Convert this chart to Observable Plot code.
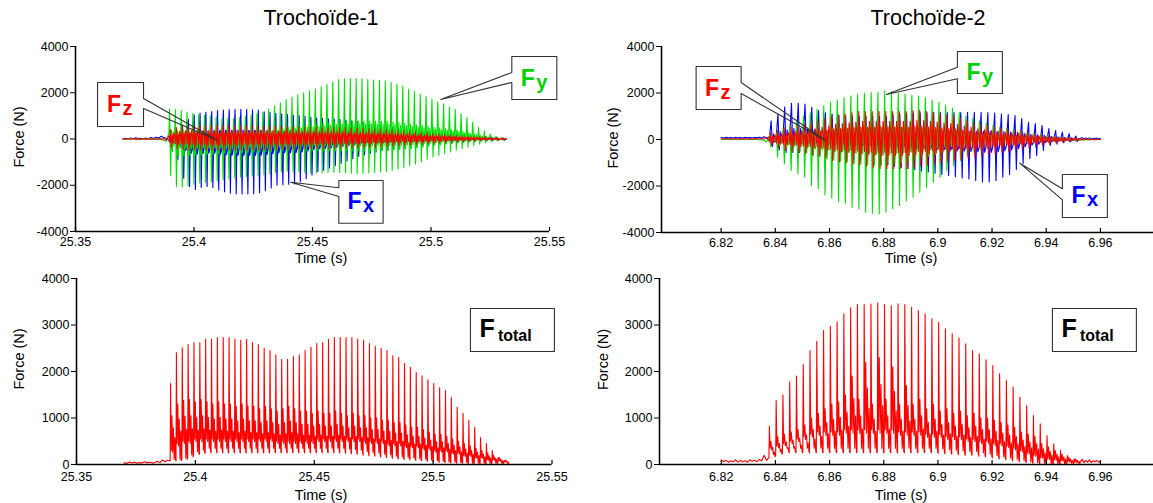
<!DOCTYPE html>
<html><head><meta charset="utf-8">
<script src="https://cdn.jsdelivr.net/npm/d3@7"></script>
<script src="https://cdn.jsdelivr.net/npm/@observablehq/plot@0.6"></script>
<style>
html,body{margin:0;padding:0;background:#fff;}
#root{position:relative;width:1153px;height:503px;overflow:hidden;font-family:"Liberation Sans",Arial,sans-serif;}
</style></head><body><div id="root"></div>
<script>
// ================= DATA =================
// Trochoïde-1 : time (s), one entry per tooth pass (cycle)
const t1Start = 25.37, t1Cycle0 = 25.3894, t1Period = 0.00246;
const t1FxMax = [200,350,600,850,1050,1120,1160,1190,1230,1250,1270,1280,1280,1270,1260,1250,1180,1150,1110,1090,1060,1030,1010,980,950,920,890,870,860,850,820,780,740,700,660,620,580,540,500,470,440,410,380,350,320,290,260,240,220,200,180,160,140,120,100,80,60,40];
const t1FxMin = [-400,-900,-1700,-2050,-2180,-2100,-2050,-2100,-2200,-2280,-2340,-2370,-2380,-2380,-2370,-2320,-2240,-2120,-2000,-1980,-1960,-1940,-1850,-1720,-1560,-1400,-1350,-1250,-1150,-1050,-950,-850,-750,-680,-620,-560,-510,-470,-430,-400,-370,-340,-310,-280,-260,-240,-220,-200,-180,-160,-140,-120,-100,-90,-80,-70,-60,-50];
const t1FyMax = [1300,1270,1230,1170,1110,1060,1030,1000,950,900,890,880,920,980,1040,1100,1160,1300,1430,1560,1690,1810,1910,2000,2080,2160,2260,2360,2470,2570,2600,2620,2610,2600,2570,2550,2540,2520,2440,2380,2290,2150,2050,1940,1840,1730,1610,1520,1380,1280,1090,920,730,500,340,210,120,60];
const t1FyMin = [-1580,-2050,-2080,-2010,-1950,-1900,-1870,-1850,-1800,-1760,-1720,-1680,-1650,-1620,-1600,-1580,-1540,-1500,-1450,-1400,-1380,-1400,-1420,-1440,-1450,-1460,-1460,-1450,-1440,-1450,-1460,-1480,-1500,-1490,-1470,-1450,-1430,-1400,-1360,-1300,-1240,-1160,-1080,-980,-880,-780,-700,-620,-560,-480,-420,-350,-280,-220,-160,-120,-80,-50];
const t1FzMax = [400,500,550,550,560,560,570,580,580,580,570,570,570,560,560,560,550,550,550,540,540,530,520,510,510,500,500,500,490,490,480,470,460,450,440,430,420,400,380,360,340,320,300,280,260,240,220,200,180,160,140,120,100,90,80,60,50,40];
const t1FzMin = [-350,-420,-450,-460,-470,-480,-480,-490,-490,-490,-480,-480,-480,-470,-470,-470,-460,-460,-460,-450,-450,-440,-430,-420,-420,-410,-410,-410,-400,-400,-390,-380,-370,-360,-350,-340,-330,-310,-300,-280,-270,-250,-240,-220,-200,-190,-170,-160,-140,-130,-110,-100,-80,-70,-60,-50,-40,-30];
const t1TotPeak = [1740,2400,2510,2580,2620,2620,2700,2700,2730,2730,2730,2690,2670,2690,2620,2580,2500,2450,2360,2260,2260,2320,2360,2450,2520,2600,2620,2690,2730,2730,2730,2730,2700,2670,2600,2540,2500,2450,2340,2300,2170,2090,1980,1910,1820,1740,1650,1590,1440,1230,1100,950,800,580,450,300,150,80];
const t1TotSecond = [1050,1300,1380,1400,1350,1400,1350,1300,1350,1300,1300,1250,1300,1250,1250,1200,1250,1200,1150,1200,1250,1200,1150,1150,1100,1150,1100,1100,1150,1100,1050,1100,1050,1050,1000,1000,950,950,900,900,850,800,800,750,700,650,650,600,550,500,450,400,350,300,250,200,150,100];
const t1TotDip = [300,450,500,500,550,550,550,550,550,550,550,550,550,550,550,550,550,550,500,500,500,500,500,500,500,550,550,550,550,550,550,550,550,500,500,500,500,450,450,450,400,400,400,350,350,300,300,300,250,250,200,200,150,150,100,100,80,60];
const t1TotLow = [80,80,100,150,200,220,250,250,250,250,250,250,250,250,250,250,250,250,250,250,250,250,250,250,250,250,250,250,250,250,240,230,220,200,190,180,160,150,130,120,110,100,90,80,70,60,50,40,40,30,30,20,20,20,20,20,20,20];
const t1PreFx = [10,30,0,40,10,50,20,30,0,40,10,60,20,80,40,120,60,30];
const t1PreFy = [0,-10,10,-5,15,-10,5,-15,10,0,-10,20,-20,10,-30,20,-60,-100];
const t1PreFz = [5,-5,10,-10,15,-5,5,-10,10,-5,15,-15,10,-20,30,-30,20,-40];
const t1PreTot = [40,20,55,30,50,25,45,30,60,35,50,30,45,70,40,100,60,90];

// Trochoïde-2
const t2Start = 6.82, t2Cycle0 = 6.8376, t2Period = 0.0025, t2End = 6.96;
const t2FxMax = [800,1100,1400,1560,1560,1530,1390,1250,1150,1100,1050,1000,1000,1000,1000,1000,1000,1000,1050,1100,1120,1140,1150,1160,1160,1160,1160,1160,1160,1170,1170,1170,1160,1140,1100,1070,1030,900,745,690,600,470,390,315,250,150];
const t2FxMin = [-300,-450,-560,-560,-560,-560,-560,-600,-650,-700,-750,-800,-850,-900,-950,-1000,-1050,-1100,-1150,-1200,-1250,-1300,-1350,-1400,-1450,-1500,-1550,-1600,-1650,-1700,-1760,-1830,-1830,-1760,-1620,-1500,-1290,-1030,-820,-690,-470,-260,-200,-150,-100,-80];
const t2FyMax = [200,300,450,600,800,1000,1150,1300,1450,1600,1700,1800,1880,1950,1990,2020,2040,2080,2050,2000,1950,1900,1870,1800,1700,1600,1480,1350,1170,1000,900,800,700,620,550,480,420,360,300,250,200,160,120,90,70,50];
const t2FyMin = [-330,-760,-1040,-1330,-1460,-1620,-1980,-2120,-2380,-2520,-2670,-2740,-2910,-2980,-3130,-3170,-3200,-3130,-2980,-2840,-2640,-2480,-2270,-2070,-1840,-1620,-1330,-1120,-900,-690,-550,-450,-380,-320,-280,-250,-220,-200,-180,-160,-140,-120,-100,-90,-70,-60];
const t2FzMax = [300,400,500,550,600,650,700,800,900,1000,1050,1100,1150,1200,1200,1200,1200,1200,1200,1200,1200,1250,1250,1200,1150,1100,1050,1000,900,800,700,650,600,550,500,450,400,350,300,250,200,160,130,100,80,60];
const t2FzMin = [-250,-350,-450,-500,-550,-600,-650,-700,-800,-900,-950,-1000,-1050,-1100,-1150,-1200,-1250,-1250,-1250,-1250,-1250,-1200,-1150,-1100,-1050,-1000,-950,-900,-850,-800,-750,-700,-650,-600,-550,-500,-450,-400,-350,-300,-250,-200,-160,-120,-90,-60];
const t2TotPeak = [820,1375,1500,1780,1900,2150,2450,2650,2880,2970,3070,3240,3370,3440,3440,3450,3475,3440,3418,3455,3440,3383,3311,3240,3132,3060,2917,2810,2724,2595,2451,2380,2250,2129,1950,1806,1663,1447,1268,1053,874,624,445,301,193,122];
const t2TotSecond = [500,600,650,700,750,850,1000,1100,1200,1300,1350,1500,1900,1400,2200,1300,2300,1400,2100,1300,1700,1300,1400,1200,1300,1150,1200,1100,1150,1050,1100,1000,1000,950,900,850,800,700,650,600,450,380,300,220,160,120];
const t2TotDip = [350,400,450,500,550,600,650,700,700,700,700,750,750,750,750,750,750,750,750,700,700,700,700,650,650,650,600,600,600,550,550,500,500,450,450,400,350,300,250,200,150,120,100,80,60,50];
const t2TotLow = [150,200,250,250,250,250,250,250,250,250,250,250,250,250,250,250,250,250,250,250,250,250,250,250,250,240,230,220,210,200,200,180,160,140,120,100,80,60,40,30,20,10,10,10,20,20];
const t2PreFx = [80,60,90,70,80,60,90,70,80,60,90,70,80,60,90,70,100,60,120,80];
const t2PreFy = [10,0,10,-10,0,10,0,-10,10,0,-10,10,0,-10,0,10,-20,0,-40,-100];
const t2PreFz = [30,20,40,20,30,10,40,20,30,20,40,10,30,20,40,20,30,40,20,60];
const t2PreTot = [100,60,90,50,80,60,100,50,90,60,80,50,100,70,90,60,110,80,200,90];
const t2PostFx = [40,80,20,60,30,70,20,50,40,60,30,50];
const t2PostFy = [-40,20,-30,10,-20,30,-10,20,-20,10,0,10];
const t2PostFz = [20,-20,30,-10,20,-20,10,-10,20,-10,10,0];
const t2PostTot = [60,110,40,90,50,100,40,80,60,90,50,70];

// ticks
const t1XTicks = [25.35, 25.4, 25.45, 25.5, 25.55];
const t1XLabels = ["25.35", "25.4", "25.45", "25.5", "25.55"];
const t2XTicks = [6.82, 6.84, 6.86, 6.88, 6.9, 6.92, 6.94, 6.96];
const t2XLabels = ["6.82", "6.84", "6.86", "6.88", "6.9", "6.92", "6.94", "6.96"];
const topYTicks = [-4000, -2000, 0, 2000, 4000];
const topYLabels = ["-4000", "-2000", "0", "2000", "4000"];
const botYTicks = [0, 1000, 2000, 3000, 4000];
const botYLabels = ["0", "1000", "2000", "3000", "4000"];

// waveform shape within one tooth pass: [phase, weight of the cycle's max (+) or min (-)]
const fxShape = [[0.05,-0.2],[0.35,1],[0.55,-1],[0.7,0.3],[0.85,-0.3]];
const fyShape = [[0,0.2],[0.12,1],[0.3,-1],[0.45,0.3],[0.6,-0.35],[0.75,0.25],[0.9,-0.2]];
const fzShape = [[0,0.35],[0.14,-0.45],[0.28,1],[0.43,-1],[0.58,0.45],[0.72,-0.55],[0.86,0.65]];
const totShape = [[0,"low",1],[0.07,"peak",1],[0.17,"dip",1],[0.3,"second",1],[0.42,"dip",0.9],[0.55,"second",0.75],[0.68,"low",1.4],[0.8,"second",0.55],[0.92,"low",1.1]];

// ================= BUILD =================
function even(tA, tB, vals, inclusiveEnd) {
  const n = inclusiveEnd ? vals.length - 1 : vals.length;
  return vals.map((v, i) => ({t: tA + (tB - tA) * i / n, v}));
}
function cycles(t0, T, shape, maxA, minA) {
  const pts = [];
  maxA.forEach((mx, k) => {
    const mn = minA[k];
    for (const [ph, c] of shape) pts.push({t: t0 + (k + ph) * T, v: c >= 0 ? c * mx : -c * mn});
  });
  return pts;
}
function totCycles(t0, T, arrs) {
  const pts = [];
  arrs.peak.forEach((_, k) => {
    for (const [ph, key, c] of totShape) pts.push({t: t0 + (k + ph) * T, v: c * arrs[key][k]});
  });
  return pts;
}
const t2Last = t2Cycle0 + t2FxMax.length * t2Period;

const t1Fx = even(t1Start, t1Cycle0, t1PreFx).concat(cycles(t1Cycle0, t1Period, fxShape, t1FxMax, t1FxMin));
const t1Fy = even(t1Start, t1Cycle0, t1PreFy).concat(cycles(t1Cycle0, t1Period, fyShape, t1FyMax, t1FyMin));
const t1Fz = even(t1Start, t1Cycle0, t1PreFz).concat(cycles(t1Cycle0, t1Period, fzShape, t1FzMax, t1FzMin));
const t1Tot = even(t1Start, t1Cycle0, t1PreTot).concat(totCycles(t1Cycle0, t1Period, {peak: t1TotPeak, second: t1TotSecond, dip: t1TotDip, low: t1TotLow}));

const t2Fx = even(t2Start, t2Cycle0, t2PreFx).concat(cycles(t2Cycle0, t2Period, fxShape, t2FxMax, t2FxMin), even(t2Last, t2End, t2PostFx, true));
const t2Fy = even(t2Start, t2Cycle0, t2PreFy).concat(cycles(t2Cycle0, t2Period, fyShape, t2FyMax, t2FyMin), even(t2Last, t2End, t2PostFy, true));
const t2Fz = even(t2Start, t2Cycle0, t2PreFz).concat(cycles(t2Cycle0, t2Period, fzShape, t2FzMax, t2FzMin), even(t2Last, t2End, t2PostFz, true));
const t2Tot = even(t2Start, t2Cycle0, t2PreTot).concat(totCycles(t2Cycle0, t2Period, {peak: t2TotPeak, second: t2TotSecond, dip: t2TotDip, low: t2TotLow}), even(t2Last, t2End, t2PostTot, true));

const RED = "#ff0000", GREEN = "#00e000", BLUE = "#0000ff";

// annotation boxes (data units)
const annTL = [
  {sub: "z", color: RED, x1: 25.3593, x2: 25.3787, y1: 540, y2: 2443, side: "right", w1: 1751, w2: 1319, tip: [25.4100, -65]},
  {sub: "y", color: "#00d000", x1: 25.5341, x2: 25.5531, y1: 1708, y2: 3567, side: "left", w1: 2875, w2: 2443, tip: [25.5041, 1708]},
  {sub: "x", color: BLUE, x1: 25.4611, x2: 25.4798, y1: -3641, y2: -1794, side: "left", w1: -2110, w2: -2486, tip: [25.4408, -1868]}
];
const annTR = [
  {sub: "z", color: RED, x1: 6.81078, x2: 6.82739, y1: 1290, y2: 3140, side: "right", w1: 2452, w2: 1978, tip: [6.8585, -43]},
  {sub: "y", color: "#00d000", x1: 6.90722, x2: 6.92382, y1: 1978, y2: 3785, side: "left", w1: 3110, w2: 2610, tip: [6.88101, 1935]},
  {sub: "x", color: BLUE, x1: 6.94597, x2: 6.96258, y1: -3355, y2: -1505, side: "left", w1: -2120, w2: -2594, tip: [6.93021, -1019]}
];
const annBL = [{sub: "total", color: "#000", x1: 25.51569, x2: 25.55101, y1: 2430, y2: 3355, side: "none"}];
const annBR = [{sub: "total", color: "#000", x1: 6.94228, x2: 6.97328, y1: 2430, y2: 3355, side: "none"}];

function annMarks(a) {
  let path;
  if (a.side === "right") path = [[a.x1,a.y2],[a.x2,a.y2],[a.x2,a.w1],a.tip,[a.x2,a.w2],[a.x2,a.y1],[a.x1,a.y1],[a.x1,a.y2]];
  else if (a.side === "left") path = [[a.x1,a.y2],[a.x2,a.y2],[a.x2,a.y1],[a.x1,a.y1],[a.x1,a.w2],a.tip,[a.x1,a.w1],[a.x1,a.y2]];
  else path = [[a.x1,a.y2],[a.x2,a.y2],[a.x2,a.y1],[a.x1,a.y1],[a.x1,a.y2]];
  const cx = (a.x1 + a.x2) / 2, cy = (a.y1 + a.y2) / 2;
  const big = a.sub === "total";
  return [
    Plot.rect([a], {x1: "x1", x2: "x2", y1: "y1", y2: "y2", fill: "white"}),
    Plot.line(path, {x: d => d[0], y: d => d[1], stroke: "#333", strokeWidth: 1.1}),
    Plot.text([a], {x: () => cx, y: () => cy, text: () => "F", textAnchor: "start", lineAnchor: "bottom",
      dx: big ? -33 : -13.5, dy: 7.5, fontSize: big ? 25 : 23, fontWeight: "bold", fill: a.color}),
    Plot.text([a], {x: () => cx, y: () => cy, text: () => a.sub, textAnchor: "start", lineAnchor: "bottom",
      dx: big ? -14.5 : 2, dy: big ? 11.5 : 10.5, fontSize: big ? 16 : 20, fontWeight: "bold", fill: a.color})
  ];
}

const root = document.getElementById("root");
function panel(cfg) {
  const {left, top, width, height, mL, mR, mT, mB, xDomain, yDomain, xTicks, xLabels, yTicks, yLabels, tickPad, series, ann} = cfg;
  const tickLen = 4 * (yDomain[1] - yDomain[0]) / (height - mT - mB);
  const marks = [];
  for (const s of series) marks.push(Plot.line(s.data, {x: "t", y: "v", stroke: s.color, strokeWidth: 1.1}));
  for (const a of ann) marks.push(...annMarks(a));
  marks.push(Plot.ruleX([xDomain[0]], {stroke: "black", strokeWidth: 1.6}));
  marks.push(Plot.ruleY([yDomain[0]], {stroke: "black", strokeWidth: 1.6}));
  marks.push(Plot.ruleX(xTicks, {x: d => d, y1: yDomain[0], y2: yDomain[0] + tickLen, stroke: "black", strokeWidth: 1.2}));
  const svg = Plot.plot({
    width, height, marginLeft: mL, marginRight: mR, marginTop: mT, marginBottom: mB,
    x: {domain: xDomain, ticks: xTicks, tickFormat: d => xLabels[xTicks.indexOf(d)], tickSize: 0, tickPadding: tickPad, label: null},
    y: {domain: yDomain, ticks: yTicks, tickFormat: d => yLabels[yTicks.indexOf(d)], tickSize: 5, tickPadding: 2, label: null},
    style: {background: "transparent", fontFamily: '"Liberation Sans", Arial, sans-serif', fontSize: "12.5px", color: "black", overflow: "visible"},
    marks
  });
  svg.style.position = "absolute";
  svg.style.left = left + "px";
  svg.style.top = top + "px";
  svg.style.maxWidth = "none";
  root.appendChild(svg);
}

panel({left: 0, top: 0, width: 565, height: 270, mL: 75, mR: 16, mT: 46, mB: 39, xDomain: [25.35, 25.55], yDomain: [-4000, 4000],
  xTicks: t1XTicks, xLabels: t1XLabels, yTicks: topYTicks, yLabels: topYLabels, tickPad: 6,
  series: [{data: t1Fx, color: BLUE}, {data: t1Fy, color: GREEN}, {data: t1Fz, color: RED}], ann: annTL});
panel({left: 600, top: 0, width: 553, height: 270, mL: 61, mR: 0, mT: 46, mB: 38, xDomain: [6.798, 6.9796], yDomain: [-4000, 4000],
  xTicks: t2XTicks, xLabels: t2XLabels, yTicks: topYTicks, yLabels: topYLabels, tickPad: 6,
  series: [{data: t2Fx, color: BLUE}, {data: t2Fy, color: GREEN}, {data: t2Fz, color: RED}], ann: annTR});
panel({left: 0, top: 250, width: 565, height: 250, mL: 76, mR: 13.5, mT: 28, mB: 36, xDomain: [25.35, 25.55], yDomain: [0, 4000],
  xTicks: t1XTicks, xLabels: t1XLabels, yTicks: botYTicks, yLabels: botYLabels, tickPad: 7.5,
  series: [{data: t1Tot, color: RED}], ann: annBL});
panel({left: 600, top: 250, width: 553, height: 250, mL: 59, mR: 0, mT: 28, mB: 36, xDomain: [6.7972, 6.9796], yDomain: [0, 4000],
  xTicks: t2XTicks, xLabels: t2XLabels, yTicks: botYTicks, yLabels: botYLabels, tickPad: 7.5,
  series: [{data: t2Tot, color: RED}], ann: annBR});

// titles and axis labels
const ov = d3.create("svg").attr("width", 1153).attr("height", 503)
  .style("position", "absolute").style("left", "0px").style("top", "0px").style("pointer-events", "none")
  .attr("font-family", '"Liberation Sans", Arial, sans-serif');
const texts = [
  {s: "Trochoïde-1", x: 321, y: 25, size: 21.5},
  {s: "Trochoïde-2", x: 928, y: 25, size: 21.5},
  {s: "Time (s)", x: 321, y: 263, size: 14.5},
  {s: "Time (s)", x: 911, y: 263, size: 14.5},
  {s: "Time (s)", x: 321, y: 500, size: 14.5},
  {s: "Time (s)", x: 901, y: 500, size: 14.5},
  {s: "Force (N)", x: 23.5, y: 137, size: 14.5, rot: true},
  {s: "Force (N)", x: 618, y: 138, size: 14.5, rot: true},
  {s: "Force (N)", x: 23.5, y: 359, size: 14.5, rot: true},
  {s: "Force (N)", x: 608, y: 359.5, size: 14.5, rot: true}
];
for (const t of texts) {
  ov.append("text").attr("text-anchor", "middle").attr("font-size", t.size).attr("fill", "#000")
    .attr("transform", `translate(${t.x},${t.y})` + (t.rot ? " rotate(-90)" : "")).text(t.s);
}
root.appendChild(ov.node());
</script></body></html>
